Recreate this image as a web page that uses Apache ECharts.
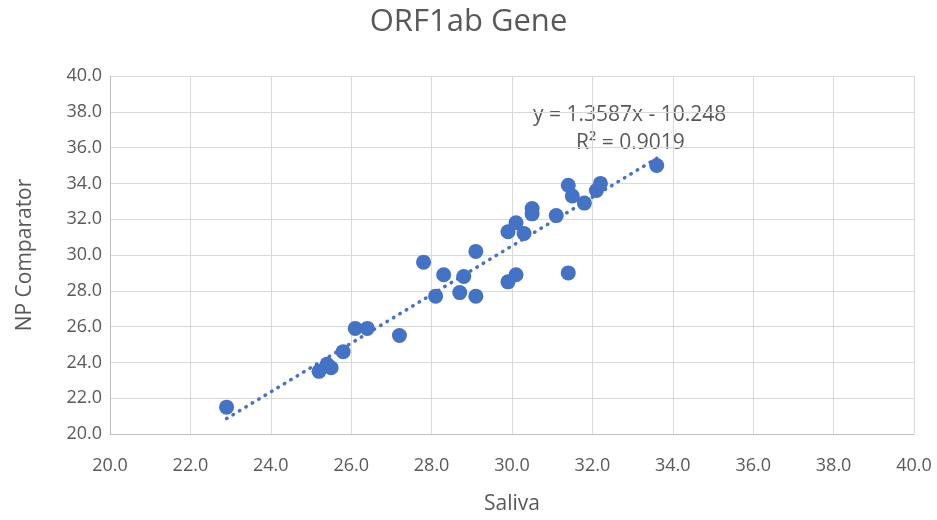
<!DOCTYPE html>
<html>
<head>
<meta charset="utf-8">
<script src="https://cdn.jsdelivr.net/npm/echarts@6/dist/echarts.min.js"></script>
<style>html,body{margin:0;padding:0;background:#fff;}#c{width:937px;height:520px;}</style>
</head>
<body>
<div id="c"></div>
<script>
const salivaX = [22.9, 25.2, 25.4, 25.5, 25.8, 26.1, 26.4, 27.2, 27.8, 28.1, 28.3, 28.7, 28.8, 29.1, 29.1, 29.9, 29.9, 30.1, 30.1, 30.3, 30.5, 30.5, 31.1, 31.4, 31.4, 31.5, 31.8, 32.1, 32.2, 33.6];
const npY     = [21.5, 23.5, 23.9, 23.7, 24.6, 25.9, 25.9, 25.5, 29.6, 27.7, 28.9, 27.9, 28.8, 27.7, 30.2, 31.3, 28.5, 28.9, 31.8, 31.2, 32.6, 32.3, 32.2, 29.0, 33.9, 33.3, 32.9, 33.6, 34.0, 35.0];
const trendX = [22.9, 33.6];
const trendY = [20.86, 35.40];
const equationText = 'y = 1.3587x - 10.248';
const r2Text = 'R² = 0.9019';

const FONT = 'Open Sans';
const points = salivaX.map((x, i) => [x, npY[i]]);
const trend = trendX.map((x, i) => [x, trendY[i]]);

const chart = echarts.init(document.getElementById('c'), null, {renderer: 'canvas'});
const axisCommon = {
  type: 'value', min: 20, max: 40, interval: 2,
  axisLine: {show: true, lineStyle: {color: '#BFBFBF', width: 1}},
  axisTick: {show: false},
  splitLine: {show: true, lineStyle: {color: '#D9D9D9', width: 1}},
  axisLabel: {color: '#595959', fontSize: 18, fontFamily: FONT, formatter: v => v.toFixed(1)},
  nameTextStyle: {color: '#595959', fontSize: 21, fontFamily: FONT}
};
chart.setOption({
  animation: false,
  backgroundColor: '#fff',
  title: {text: 'ORF1ab Gene', left: 'center', top: 2,
    textStyle: {color: '#595959', fontSize: 31, fontWeight: 'normal', fontFamily: FONT}},
  grid: {left: 110, right: 23, top: 76, bottom: 86},
  xAxis: Object.assign({}, axisCommon, {name: 'Saliva', nameLocation: 'middle', nameGap: 60,
    axisLabel: Object.assign({}, axisCommon.axisLabel, {margin: 23})}),
  yAxis: Object.assign({}, axisCommon, {name: 'NP Comparator', nameLocation: 'middle', nameGap: 74,
    axisLabel: Object.assign({}, axisCommon.axisLabel, {margin: 8})}),
  series: [
    {type: 'line', data: trend, showSymbol: false, symbol: 'none',
     lineStyle: {color: '#4472C4', width: 3.5, type: [0.5, 7], cap: 'round'}, z: 1},
    {type: 'scatter', data: points, symbolSize: 15,
     itemStyle: {color: '#4472C4', opacity: 1}, z: 2}
  ],
  graphic: [
    {type: 'text', left: 533, top: 105, style: {text: equationText, fill: '#595959', fontSize: 21, fontFamily: FONT}},
    {type: 'text', left: 576, top: 133, style: {text: r2Text, fill: '#595959', fontSize: 21, fontFamily: FONT}}
  ]
});
</script>
</body>
</html>
